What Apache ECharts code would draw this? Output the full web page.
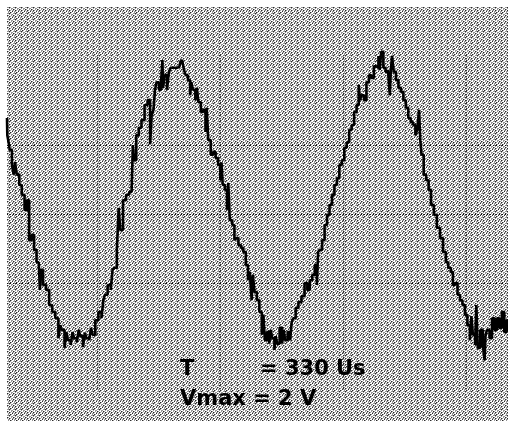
<!DOCTYPE html>
<html>
<head>
<meta charset="utf-8">
<script src="https://cdn.jsdelivr.net/npm/echarts@6/dist/echarts.min.js"></script>
<style>
  html, body { margin: 0; padding: 0; background: #fff; }
  #scope { width: 508px; height: 421px; }
</style>
</head>
<body>
<div id="scope"></div>
<script>
// Captured trace: [time in µs, voltage in V]
const trace = [
  [54,1.39],[55,1.14],[57,1.07],[60,0.93],[64,0.71],[66,0.57],[68,0.75],[72,0.57],
  [76,0.42],[80,0.28],[85,0.06],[88,0.20],[92,-0.38],[96,-0.30],[100,-0.52],[104,-0.70],
  [107,-0.70],[108,-1.10],[110,-0.81],[115,-1.03],[120,-1.10],[125,-1.32],[130,-1.42],[135,-1.51],
  [140,-1.80],[141,-1.61],[145,-1.68],[150,-1.94],[151,-1.71],[155,-1.83],[160,-1.90],[161,-1.71],
  [165,-1.80],[170,-1.86],[171,-1.68],[175,-1.77],[180,-1.93],[181,-1.72],[185,-1.80],[190,-1.83],
  [191,-1.65],[195,-1.75],[200,-1.54],[205,-1.42],[210,-1.51],[211,-1.25],[215,-1.17],[220,-1.03],
  [225,-1.10],[226,-0.81],[230,-0.78],[235,-0.52],[236,0.09],[240,-0.23],[245,0.20],[250,0.28],
  [255,0.32],[258,0.35],[259,1.00],[262,0.78],[266,1.14],[270,1.25],[275,1.36],[280,1.58],
  [285,1.65],[288,1.01],[290,1.43],[294,1.51],[295,1.80],[299,1.91],[303,1.80],[306,1.94],
  [307,2.23],[308,1.83],[312,2.01],[316,1.80],[318,2.06],[322,2.12],[330,2.12],[334,2.13],
  [337,2.20],[340,2.23],[343,2.09],[346,2.01],[350,1.94],[353,1.72],[354,1.91],[358,1.80],
  [362,1.65],[363,1.83],[367,1.62],[371,1.48],[375,1.51],[378,1.19],[379,1.54],[383,1.07],
  [387,0.86],[391,0.90],[395,0.81],[399,0.71],[402,0.49],[403,0.75],[406,0.42],[410,0.35],
  [413,0.06],[414,0.45],[418,-0.09],[422,-0.16],[425,-0.38],[428,-0.35],[432,-0.45],[436,-0.49],
  [440,-0.55],[444,-0.74],[447,-0.96],[450,-0.84],[453,-1.25],[454,-0.88],[458,-1.13],[462,-1.25],
  [466,-1.42],[470,-1.75],[471,-1.46],[475,-1.83],[478,-1.71],[482,-1.88],[483,-1.68],[487,-1.80],
  [490,-1.97],[491,-1.77],[495,-1.88],[499,-1.65],[503,-1.88],[504,-1.68],[508,-1.83],[512,-1.71],
  [516,-1.83],[517,-1.57],[521,-1.51],[525,-1.36],[530,-1.28],[535,-1.19],[540,-1.00],[544,-1.10],
  [548,-0.96],[552,-0.88],[556,-0.74],[559,-1.03],[560,-0.55],[564,-0.52],[568,-0.38],[572,-0.16],
  [576,-0.01],[580,0.13],[584,0.28],[588,0.42],[592,0.52],[596,0.71],[600,0.78],[604,0.96],
  [608,1.04],[612,1.22],[616,1.29],[620,1.48],[624,1.58],[627,1.87],[628,1.65],[632,1.72],
  [636,1.65],[640,1.91],[644,2.01],[648,1.97],[652,2.14],[656,2.12],[659,2.29],[660,2.09],
  [664,2.35],[667,2.12],[671,2.06],[675,2.09],[677,1.72],[678,2.06],[681,2.29],[684,2.06],
  [688,1.94],[692,1.83],[696,1.77],[700,1.65],[704,1.54],[708,1.39],[712,1.33],[716,1.29],
  [719,1.14],[722,1.22],[725,1.51],[726,1.07],[729,0.86],[733,0.57],[737,0.49],[741,0.35],
  [745,0.13],[750,-0.01],[755,-0.20],[760,-0.35],[765,-0.55],[769,-0.70],[773,-0.78],[777,-0.84],
  [780,-1.03],[784,-1.00],[788,-1.17],[792,-1.25],[796,-1.32],[800,-1.46],[804,-1.61],[808,-1.83],
  [809,-1.48],[813,-1.75],[816,-1.90],[817,-1.32],[821,-1.94],[825,-1.68],[829,-1.90],[831,-2.12],
  [832,-1.75],[836,-1.68],[840,-1.80],[844,-1.51],[848,-1.68],[852,-1.51],[856,-1.65],[860,-1.42],
  [864,-1.71],[868,-1.54]
];

// Graticule: time divisions (200 µs/div) and voltage divisions (1 V/div)
const timeDivisions = [200, 400, 600, 800];
const voltDivisions = [-1, 0, 1];
const graticuleTop = 2.3;
const graticuleBottom = -2.55;

// Visible window
const timeRange = [54, 868];
const voltRange = [-3, 3];

// Readout text
const periodLabel = 'T';
const periodValue = '= 330 Us';
const vmaxLabel = 'Vmax = 2 V';

// Halftone screen tile for the display face
function screenTile() {
  const rows = [
    'WWGWKG',
    'WGGKGW',
    'GWWGWG',
    'WKGWWG',
    'GGWKGW',
    'KWGGWW'
  ];
  const shade = { W: '#ffffff', G: '#959595', K: '#2a2a2a' };
  const c = document.createElement('canvas');
  c.width = 6; c.height = 6;
  const ctx = c.getContext('2d');
  rows.forEach((row, y) => {
    for (let x = 0; x < row.length; x++) {
      ctx.fillStyle = shade[row[x]];
      ctx.fillRect(x, y, 1, 1);
    }
  });
  return c;
}

const chart = echarts.init(document.getElementById('scope'), null, { renderer: 'canvas' });

const gridLineStyle = { color: '#000', width: 1, type: [1, 2], opacity: 0.9 };

const markLines = [];
timeDivisions.forEach(t => {
  markLines.push([{ coord: [t, graticuleTop] }, { coord: [t, graticuleBottom] }]);
});
voltDivisions.forEach(v => {
  markLines.push([{ coord: [timeRange[0], v] }, { coord: [timeRange[1], v] }]);
});

const textFont = 'bold 21px "DejaVu Sans"';

chart.setOption({
  animation: false,
  backgroundColor: '#ffffff',
  grid: { left: 7, top: 7, right: 0, bottom: 0, containLabel: false },
  xAxis: {
    type: 'value', min: timeRange[0], max: timeRange[1],
    axisLine: { show: false }, axisTick: { show: false },
    axisLabel: { show: false }, splitLine: { show: false }
  },
  yAxis: {
    type: 'value', min: voltRange[0], max: voltRange[1],
    axisLine: { show: false }, axisTick: { show: false },
    axisLabel: { show: false }, splitLine: { show: false }
  },
  graphic: [
    {
      type: 'rect', z: -10, silent: true,
      shape: { x: 7, y: 7, width: 501, height: 414 },
      style: { fill: { image: screenTile(), repeat: 'repeat' } }
    },
    {
      type: 'text', z: 100, left: 180, top: 359,
      style: { text: periodLabel, font: textFont, fill: '#000' }
    },
    {
      type: 'text', z: 100, left: 260, top: 359,
      style: { text: periodValue, font: textFont, fill: '#000' }
    },
    {
      type: 'text', z: 100, left: 180, top: 389,
      style: { text: vmaxLabel, font: textFont, fill: '#000' }
    }
  ],
  series: [{
    type: 'line',
    data: trace,
    showSymbol: false,
    smooth: false,
    step: 'middle',
    lineStyle: { color: '#000', width: 2.6 },
    z: 5,
    markLine: {
      silent: true,
      symbol: 'none',
      label: { show: false },
      lineStyle: gridLineStyle,
      emphasis: { disabled: true },
      data: markLines
    }
  }]
});
</script>
</body>
</html>
